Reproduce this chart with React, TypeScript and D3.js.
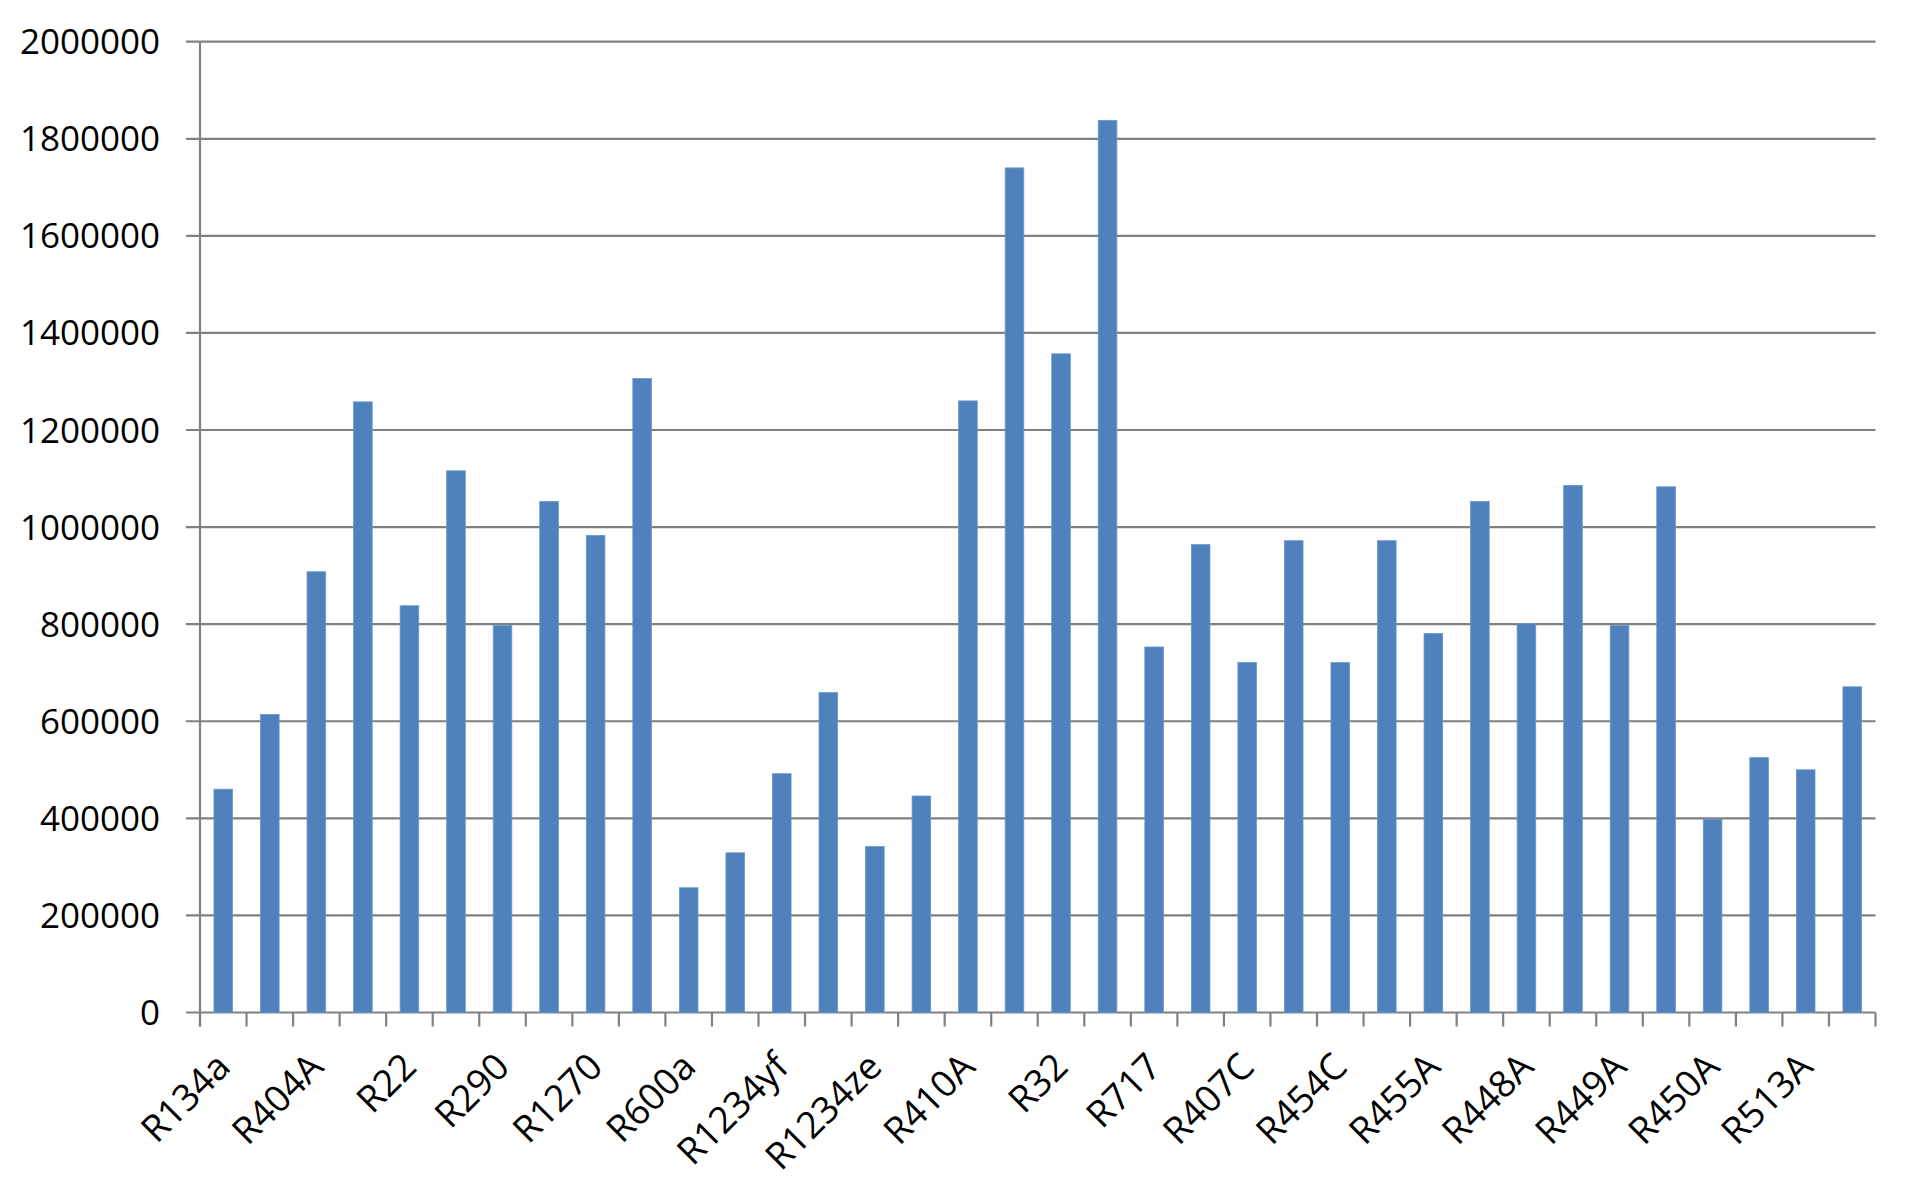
import React from "react";
import * as d3 from "d3";

// Category labels (only every other category label is visible on the axis)
const categories: string[] = [
  "R134a", "", "R404A", "", "R22", "", "R290", "", "R1270", "",
  "R600a", "", "R1234yf", "", "R1234ze", "", "R410A", "", "R32", "",
  "R717", "", "R407C", "", "R454C", "", "R455A", "", "R448A", "",
  "R449A", "", "R450A", "", "R513A", "",
];

const values: number[] = [
  460000, 614000, 908000, 1258000, 838000, 1116000, 797000, 1053000, 983000, 1306000,
  257000, 329000, 492000, 659000, 342000, 446000, 1260000, 1740000, 1357000, 1838000,
  753000, 964000, 721000, 972000, 721000, 972000, 781000, 1053000, 801000, 1086000,
  797000, 1083000, 398000, 525000, 500000, 671000,
];

const yTicks: number[] = [0, 200000, 400000, 600000, 800000, 1000000, 1200000, 1400000, 1600000, 1800000, 2000000];

const W = 1924;
const H = 1179;
const FONT = "'Open Sans', 'Liberation Sans', sans-serif";

export default function App() {
  const left = 200;
  const right = 1875.5;
  const top = 41.7;
  const bottom = 1012.5;

  const idx = d3.range(categories.length);
  const x = d3.scaleBand<number>().domain(idx).range([left, right]).paddingInner(0.6).paddingOuter(0.3);
  const step = x.step();
  const y = d3.scaleLinear().domain([0, 2000000]).range([bottom, top]);
  const gridColor = "#808080";

  return (
    <svg width={W} height={H} style={{ position: "absolute", left: 0, top: 0, background: "#fff" }}>
      <rect x={0} y={0} width={W} height={H} fill="#fff" />
      {yTicks.map((t) => (
        <g key={t}>
          <line x1={left - 14} x2={right} y1={y(t)} y2={y(t)} stroke={gridColor} strokeWidth={2.2} />
          <text x={160} y={y(t) + 12.5} textAnchor="end" fontFamily={FONT} fontSize={35} fill="#000">
            {t}
          </text>
        </g>
      ))}
      <line x1={left} x2={left} y1={top} y2={bottom + 14} stroke={gridColor} strokeWidth={2.2} />
      {d3.range(categories.length + 1).map((i) => (
        <line key={"t" + i} x1={left + i * step} x2={left + i * step} y1={bottom} y2={bottom + 14} stroke={gridColor} strokeWidth={2.2} />
      ))}
      {values.map((v, i) => (
        <rect key={"b" + i} x={x(i)} y={y(v)} width={x.bandwidth()} height={bottom - y(v)} fill="#4F81BD" stroke="#6A97CC" strokeWidth={0.8} />
      ))}
      {categories.map((c, i) =>
        c ? (
          <text
            key={"l" + i}
            transform={`translate(${(x(i) as number) + x.bandwidth() / 2 + 9},1069) rotate(-45)`}
            textAnchor="end"
            fontFamily={FONT}
            fontSize={37}
            fill="#000"
          >
            {c}
          </text>
        ) : null
      )}
    </svg>
  );
}
